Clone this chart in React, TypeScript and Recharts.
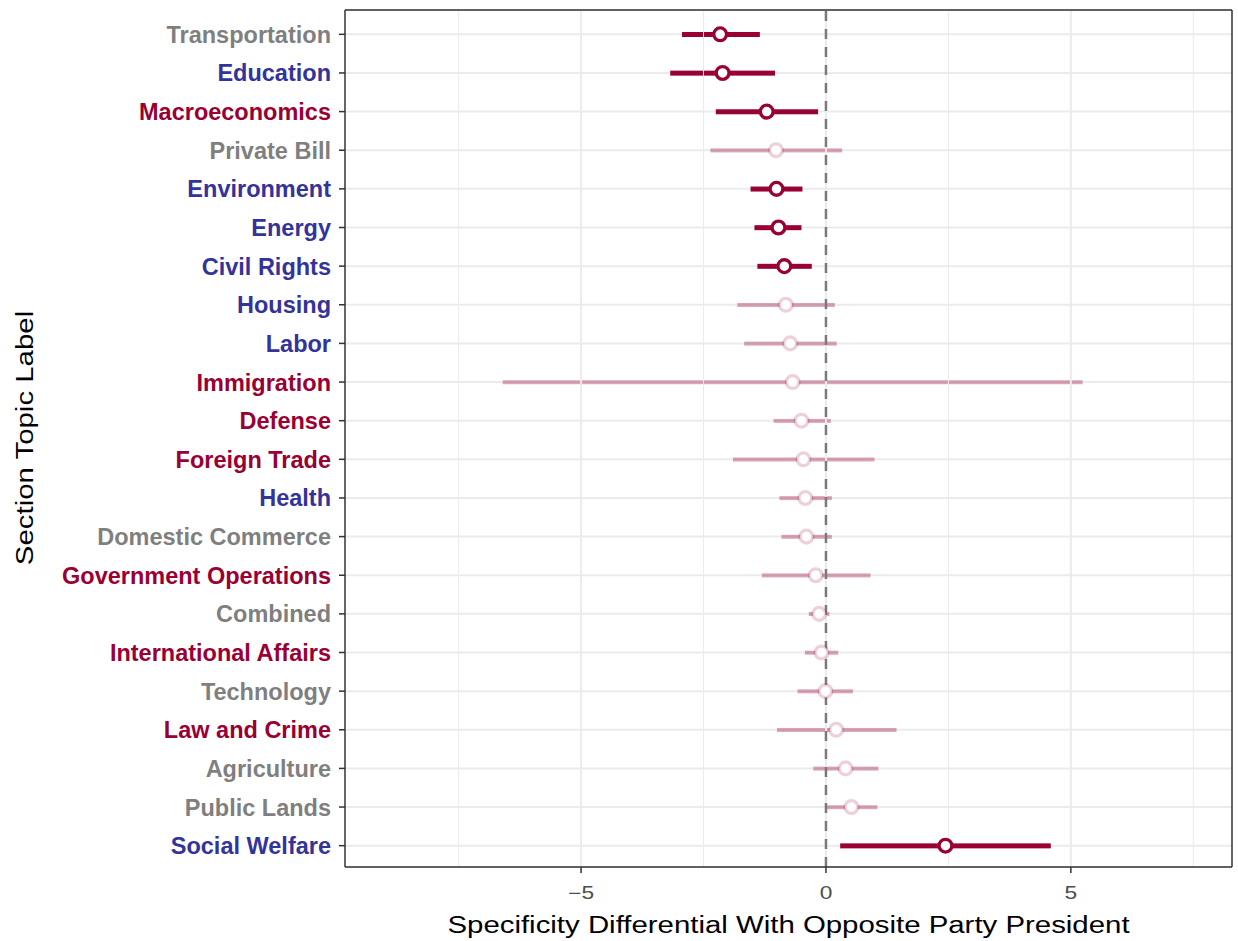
import React from 'react';
import {
  ComposedChart,
  Bar,
  Line,
  XAxis,
  YAxis,
  CartesianGrid,
  ReferenceLine,
} from 'recharts';

// Topic rows, top to bottom
const topics = [
  'Transportation', 'Education', 'Macroeconomics', 'Private Bill', 'Environment',
  'Energy', 'Civil Rights', 'Housing', 'Labor', 'Immigration', 'Defense',
  'Foreign Trade', 'Health', 'Domestic Commerce', 'Government Operations',
  'Combined', 'International Affairs', 'Technology', 'Law and Crime',
  'Agriculture', 'Public Lands', 'Social Welfare',
];

const estimates = [
  -2.16, -2.11, -1.21, -1.02, -1.01, -0.97, -0.85, -0.82, -0.73, -0.68, -0.50,
  -0.46, -0.42, -0.40, -0.21, -0.14, -0.09, -0.01, 0.21, 0.40, 0.52, 2.44,
];
const lower = [
  -2.94, -3.18, -2.25, -2.36, -1.54, -1.46, -1.40, -1.81, -1.67, -6.60, -1.07,
  -1.90, -0.95, -0.91, -1.31, -0.35, -0.43, -0.58, -1.00, -0.26, 0.01, 0.29,
];
const upper = [
  -1.35, -1.04, -0.16, 0.33, -0.48, -0.50, -0.29, 0.18, 0.22, 5.24, 0.10,
  0.99, 0.12, 0.12, 0.91, 0.07, 0.25, 0.55, 1.44, 1.07, 1.05, 4.59,
];
const significant = [
  true, true, true, false, true, true, true, false, false, false, false,
  false, false, false, false, false, false, false, false, false, false, true,
];
// g = grey, b = blue, r = red
const labelGroups = [
  'g', 'b', 'r', 'g', 'b', 'b', 'b', 'b', 'b', 'r', 'r',
  'r', 'b', 'g', 'r', 'g', 'r', 'g', 'r', 'g', 'g', 'b',
];

const xTicks = [-5, 0, 5];
const minorTicks = [-7.5, -2.5, 2.5, 7.5];

const RED = '#990033';
const GROUP_COLORS: Record<string, string> = { g: '#7f7f7f', b: '#333399', r: RED };
const FONT = '"Liberation Sans", Arial, Helvetica, sans-serif';
const X_MIN = -9.82;
const X_MAX = 8.29;
const BORDER = '#333333';

const data = topics.map((topic, i) => ({
  topic,
  est: estimates[i],
  range: [lower[i], upper[i]],
  sig: significant[i],
  group: labelGroups[i],
}));

const IntervalShape = (props: any) => {
  const { x, y, width, height, payload } = props;
  const thick = payload.sig ? 5 : 4;
  const left = Math.min(x, x + width);
  const w = Math.abs(width);
  return (
    <rect
      x={left}
      y={y + height / 2 - thick / 2}
      width={w}
      height={thick}
      fill={payload.sig ? RED : 'rgba(153,0,51,0.35)'}
    />
  );
};

const PointDot = (props: any) => {
  const { cx, cy, payload, index } = props;
  return (
    <circle
      key={`dot-${index}`}
      cx={cx}
      cy={cy}
      r={6.4}
      fill="#ffffff"
      stroke={payload.sig ? RED : 'rgba(153,0,51,0.18)'}
      strokeWidth={3.3}
    />
  );
};

const TopicTick = (props: any) => {
  const { x, y, payload } = props;
  const idx = topics.indexOf(payload.value);
  return (
    <text
      x={x}
      y={y}
      dy="0.36em"
      textAnchor="end"
      fontFamily={FONT}
      fontWeight="bold"
      fontSize={23.5}
      fill={GROUP_COLORS[labelGroups[idx]]}
    >
      {payload.value}
    </text>
  );
};

// x tick labels are a touch wider than plain Arial in the original
const NumberTick = (props: any) => {
  const { x, y, payload } = props;
  return (
    <text
      transform={`translate(${x},${y}) scale(1.3,1)`}
      dy="0.71em"
      textAnchor="middle"
      fontFamily={FONT}
      fontSize={17.5}
      fill="#4d4d4d"
    >
      {String(payload.value).replace('-', '\u2212')}
    </text>
  );
};

const App = () => {
  return (
    <div>
      <style>{'body{margin:0;background:#fff}'}</style>
      <ComposedChart
        width={1238}
        height={941}
        data={data}
        layout="vertical"
        margin={{ top: 9, right: 5, bottom: 0, left: 0 }}
        barCategoryGap={0}
      >
        <CartesianGrid vertical={false} stroke="#ebebeb" strokeWidth={2} />
        {minorTicks.map((t) => (
          <ReferenceLine key={`mn${t}`} x={t} stroke="#ebebeb" strokeWidth={1} />
        ))}
        {xTicks.map((t) => (
          <ReferenceLine key={`mj${t}`} x={t} stroke="#ebebeb" strokeWidth={2} />
        ))}
        <XAxis
          type="number"
          domain={[X_MIN, X_MAX]}
          ticks={xTicks}
          allowDataOverflow
          axisLine={{ stroke: BORDER, strokeWidth: 1.5 }}
          tickLine={{ stroke: BORDER, strokeWidth: 1.5 }}
          tickSize={6}
          tickMargin={14}
          height={74}
          tick={<NumberTick />}
          label={{
            content: (p: any) => {
              const vb = p.viewBox;
              const cx = vb.x + vb.width / 2;
              const by = vb.y + 66;
              return (
                <text
                  transform={`translate(${cx},${by}) scale(1.2,1)`}
                  textAnchor="middle"
                  fontFamily={FONT}
                  fontSize={24.5}
                  fill="#000"
                >
                  Specificity Differential With Opposite Party President
                </text>
              );
            },
          }}
        />
        <XAxis
          xAxisId="top"
          orientation="top"
          type="number"
          domain={[X_MIN, X_MAX]}
          allowDataOverflow
          height={1}
          ticks={xTicks}
          tick={false}
          tickLine={false}
          axisLine={{ stroke: BORDER, strokeWidth: 1.5 }}
        />
        <YAxis
          type="category"
          dataKey="topic"
          width={345}
          axisLine={{ stroke: BORDER, strokeWidth: 1.5 }}
          tickLine={{ stroke: BORDER, strokeWidth: 1.5 }}
          tickSize={6}
          tickMargin={8}
          padding={{ top: 5, bottom: 2 }}
          interval={0}
          tick={<TopicTick />}
          label={{
            content: () => (
              <text
                transform="translate(33,438) rotate(-90) scale(1.2,1)"
                textAnchor="middle"
                fontFamily={FONT}
                fontSize={24.5}
                fill="#000"
              >
                Section Topic Label
              </text>
            ),
          }}
        />
        <YAxis
          yAxisId="right"
          orientation="right"
          type="category"
          dataKey="topic"
          width={1}
          tick={false}
          tickLine={false}
          axisLine={{ stroke: BORDER, strokeWidth: 1.5 }}
        />
        <Bar dataKey="range" shape={<IntervalShape />} isAnimationActive={false} />
        <Line
          dataKey="est"
          stroke="none"
          dot={PointDot}
          activeDot={false}
          isAnimationActive={false}
        />
        <ReferenceLine x={0} stroke="#7a7a7a" strokeWidth={2.5} strokeDasharray="10 8" />
      </ComposedChart>
    </div>
  );
};

export default App;
